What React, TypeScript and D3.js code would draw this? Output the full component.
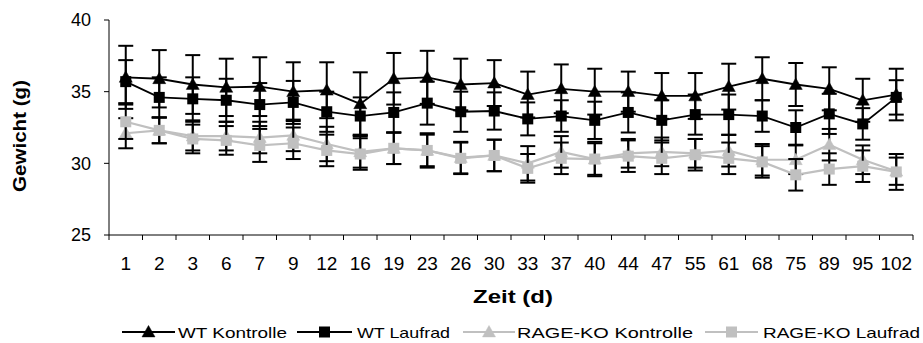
import React from "react";
import * as d3 from "d3";

const categories = ["1","2","3","6","7","9","12","16","19","23","26","30","33","37","40","44","47","55","61","68","75","89","95","102"];

const wtKontrolle = [36.0, 35.9, 35.5, 35.3, 35.35, 35.0, 35.1, 34.15, 35.9, 36.0, 35.5, 35.6, 34.8, 35.2, 35.0, 35.0, 34.7, 34.7, 35.35, 35.9, 35.5, 35.2, 34.4, 34.8];
const wtKontrolleErr = [2.2, 2.0, 2.05, 2.0, 2.05, 2.05, 1.95, 2.2, 1.8, 1.85, 1.8, 1.6, 1.6, 1.7, 1.6, 1.4, 1.6, 1.6, 1.6, 1.5, 1.5, 1.5, 1.5, 1.8];

const wtLaufrad = [35.7, 34.6, 34.5, 34.4, 34.1, 34.25, 33.6, 33.3, 33.55, 34.2, 33.6, 33.65, 33.1, 33.3, 33.0, 33.55, 33.0, 33.4, 33.4, 33.3, 32.5, 33.45, 32.75, 34.6];
const wtLaufradErr = [1.5, 1.4, 1.5, 1.5, 1.5, 1.5, 1.4, 1.3, 1.4, 1.5, 1.4, 1.3, 1.15, 1.1, 1.3, 1.4, 1.4, 1.4, 1.4, 1.1, 1.2, 1.4, 1.1, 1.2];

const rageKontrolle = [32.1, 32.3, 31.9, 31.9, 31.8, 31.95, 31.35, 30.8, 31.05, 30.9, 30.4, 30.55, 30.0, 30.8, 30.3, 30.7, 30.8, 30.7, 30.88, 30.25, 30.25, 31.3, 30.25, 29.45];
const rageKontrolleErr = [1.05, 0.9, 1.0, 1.0, 1.1, 1.1, 1.2, 1.1, 1.1, 1.2, 1.1, 1.1, 1.2, 1.1, 1.1, 1.0, 1.0, 1.0, 1.1, 1.1, 1.0, 1.1, 1.0, 0.95];

const rageLaufrad = [32.9, 32.3, 31.7, 31.6, 31.25, 31.4, 30.9, 30.65, 31.05, 30.9, 30.35, 30.55, 29.65, 30.35, 30.3, 30.5, 30.35, 30.6, 30.35, 30.1, 29.2, 29.6, 29.8, 29.4];
const rageLaufradErr = [1.2, 0.9, 1.0, 1.0, 1.15, 1.1, 1.1, 1.1, 1.1, 1.1, 1.1, 1.1, 1.0, 1.1, 1.2, 1.1, 1.1, 1.1, 1.1, 1.1, 1.1, 1.1, 1.1, 1.25];

const yTicks = [25, 30, 35, 40];

const seriesNames = ["WT Kontrolle", "WT Laufrad", "RAGE-KO Kontrolle", "RAGE-KO Laufrad"];

const FONT = "'Liberation Sans', Arial, sans-serif";

type Series = { name: string; values: number[]; err: number[]; color: string; marker: "triangle" | "square" };

const series: Series[] = [
  { name: seriesNames[0], values: wtKontrolle, err: wtKontrolleErr, color: "#000000", marker: "triangle" },
  { name: seriesNames[1], values: wtLaufrad, err: wtLaufradErr, color: "#000000", marker: "square" },
  { name: seriesNames[2], values: rageKontrolle, err: rageKontrolleErr, color: "#C0C0C0", marker: "triangle" },
  { name: seriesNames[3], values: rageLaufrad, err: rageLaufradErr, color: "#C0C0C0", marker: "square" },
];

function Marker({ type, x, y, color }: { type: string; x: number; y: number; color: string }) {
  if (type === "triangle") {
    const s = 6.5;
    return <path d={`M${x},${y - s} L${x + s},${y + s * 0.75} L${x - s},${y + s * 0.75} Z`} fill={color} stroke={color} strokeWidth={0.5} />;
  }
  const h = 5.5;
  return <rect x={x - h} y={y - h} width={2 * h} height={2 * h} fill={color} />;
}

export default function App() {
  const W = 923, H = 343;
  const left = 109, right = 913, top = 20, bottom = 235;
  const x = d3.scaleBand<string>().domain(categories).range([left, right]).padding(0);
  const y = d3.scaleLinear().domain([25, 40]).range([bottom, top]);
  const cx = (c: string) => (x(c) as number) + x.bandwidth() / 2;
  const capHalf = 7.5;

  const legendItems = [
    { lx1: 122, lx2: 175, tx: 178, tl: 109 },
    { lx1: 297, lx2: 352, tx: 357, tl: 93 },
    { lx1: 463, lx2: 515, tx: 517, tl: 176 },
    { lx1: 705, lx2: 758, tx: 763, tl: 157 },
  ];

  return (
    <svg width={W} height={H} style={{ position: "absolute", left: 0, top: 0, background: "#fff" }} fontFamily={FONT}>
      {/* axes */}
      <line x1={left} x2={left} y1={top} y2={bottom} stroke="#000" strokeWidth={1} />
      <line x1={left} x2={right} y1={bottom} y2={bottom} stroke="#000" strokeWidth={1} />
      {yTicks.map((t) => (
        <g key={t}>
          <line x1={left - 5} x2={left} y1={y(t)} y2={y(t)} stroke="#000" />
          <text x={91} y={y(t)} dy="0.35em" textAnchor="end" fontSize={18}>{t}</text>
        </g>
      ))}
      {categories.map((c, i) => (
        <line key={"t" + i} x1={x(c) as number} x2={x(c) as number} y1={bottom} y2={bottom + 5} stroke="#000" />
      ))}
      <line x1={right} x2={right} y1={bottom} y2={bottom + 5} stroke="#000" />
      {categories.map((c) => (
        <text key={"l" + c} x={cx(c)} y={270} textAnchor="middle" fontSize={19}>{c}</text>
      ))}
      <text x={513} y={303} textAnchor="middle" fontSize={18} fontWeight="bold" textLength={80} lengthAdjust="spacingAndGlyphs">Zeit (d)</text>
      <text transform="translate(26,136) rotate(-90)" textAnchor="middle" fontSize={18} fontWeight="bold" textLength={112} lengthAdjust="spacingAndGlyphs">Gewicht (g)</text>

      {/* series */}
      {series.map((s, si) => {
        const line = d3.line<number>().x((_, i) => cx(categories[i])).y((v) => y(v));
        return (
          <g key={si}>
            {s.values.map((v, i) => {
              const px = cx(categories[i]);
              const y1 = y(v + s.err[i]);
              const y2 = y(v - s.err[i]);
              return (
                <g key={i} stroke="#000" strokeWidth={2}>
                  <line x1={px} x2={px} y1={y1} y2={y2} />
                  <line x1={px - capHalf} x2={px + capHalf} y1={y1} y2={y1} />
                  <line x1={px - capHalf} x2={px + capHalf} y1={y2} y2={y2} />
                </g>
              );
            })}
            <path d={line(s.values) || ""} fill="none" stroke={s.color} strokeWidth={s.color === "#000000" ? 1.8 : 2.2} />
            {s.values.map((v, i) => (
              <Marker key={i} type={s.marker} x={cx(categories[i])} y={y(v)} color={s.color} />
            ))}
          </g>
        );
      })}

      {/* legend */}
      {series.map((s, i) => {
        const it = legendItems[i];
        const ly = 332;
        return (
          <g key={"lg" + i}>
            <line x1={it.lx1} x2={it.lx2} y1={ly} y2={ly} stroke={s.color} strokeWidth={s.color === "#000000" ? 1.8 : 2.2} />
            <Marker type={s.marker} x={(it.lx1 + it.lx2) / 2} y={ly} color={s.color} />
            <text x={it.tx} y={338} fontSize={15} textLength={it.tl} lengthAdjust="spacingAndGlyphs">{s.name}</text>
          </g>
        );
      })}
    </svg>
  );
}
